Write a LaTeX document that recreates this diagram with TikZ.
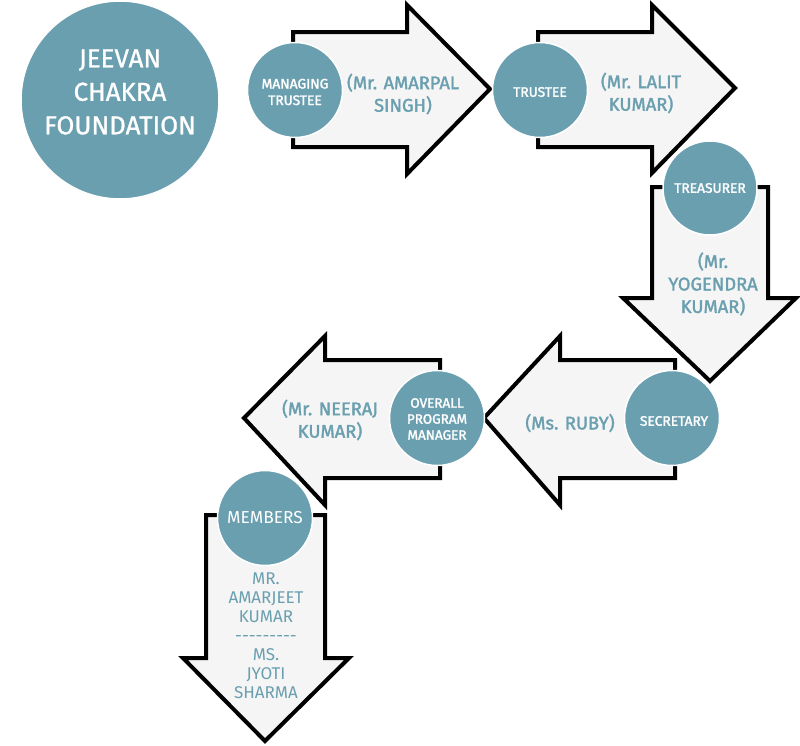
\documentclass[tikz,border=0pt]{standalone}
\usepackage{fontspec}
\setmainfont{Fira Sans}
\newfontfamily\medfont{Fira Sans}[FakeBold=1.8]
\newfontfamily\lightbold{Fira Sans}[FakeBold=1.0]
\definecolor{teal}{HTML}{6A9FB0}
\definecolor{arrfill}{HTML}{F5F5F5}
\tikzset{
  arrowbox/.style={draw=black, fill=arrfill, line width=4pt, line join=miter},
  disc/.style={circle, fill=teal, draw=white, line width=1.5pt, inner sep=0pt, minimum size=#1},
  disctext/.style={text=white, align=center, font=\medfont\fontsize{13.8}{16.5}\selectfont, inner sep=0pt},
  namelab/.style={text=teal, align=center, font=\medfont\fontsize{18.3}{22.5}\selectfont, inner sep=0pt},
  listlab/.style={text=teal, align=center, font=\fontsize{17}{19}\selectfont, inner sep=0pt},
}
\begin{document}
\begin{tikzpicture}[x=1pt,y=-1pt]
\useasboundingbox (0,0) rectangle (800,745);
% arrows
\draw[arrowbox] (293,32) -- (407,32) -- (407,5) -- (490,89) -- (407,174) -- (407,147) -- (293,147) -- cycle;
\draw[arrowbox] (538,32) -- (652,32) -- (652,5) -- (735,88) -- (652,173) -- (652,147) -- (538,147) -- cycle;
\draw[arrowbox] (652,187) -- (768,187) -- (768,298) -- (796,298) -- (710,381) -- (623,298) -- (652,298) -- cycle;
\draw[arrowbox] (675,360) -- (560,360) -- (560,336) -- (484,418) -- (560,505) -- (560,478) -- (675,478) -- cycle;
\draw[arrowbox] (440,360) -- (325,360) -- (325,336) -- (244,418) -- (325,505) -- (325,478) -- (440,478) -- cycle;
\draw[arrowbox] (206,515) -- (325,515) -- (325,658) -- (349,658) -- (265,741) -- (183,658) -- (206,658) -- cycle;
% circles
\node[disc=198pt] (jcf) at (120,100) {};
\node[text=white, align=center, font=\lightbold\fontsize{25.9}{33.5}\selectfont, inner sep=0pt] (jcft) at (120,92) {JEEVAN\\CHAKRA\\FOUNDATION};
\node[disc=95pt] (mt) at (295,90) {};
\node[disctext] (mtt) at (295,92) {MANAGING\\TRUSTEE};
\node[namelab] (amar) at (403,94) {(Mr. AMARPAL\\SINGH)};
\node[disc=95pt] (tr) at (540,90) {};
\node[disctext] (trt) at (540,92) {TRUSTEE};
\node[namelab] (lalit) at (641,93) {(Mr. LALIT\\KUMAR)};
\node[disc=94pt] (tre) at (710,188) {};
\node[disctext] (tret) at (710,188) {TREASURER};
\node[namelab] (yog) at (713,284) {(Mr.\\YOGENDRA\\KUMAR)};
\node[disc=95pt] (sec) at (672,418) {};
\node[disctext] (sect) at (674,421) {SECRETARY};
\node[namelab] (ruby) at (570,423) {(Ms. RUBY)};
\node[disc=95pt] (opm) at (437,418) {};
\node[disctext, font=\medfont\fontsize{13.5}{16}\selectfont] (opmt) at (437,419) {OVERALL\\PROGRAM\\MANAGER};
\node[namelab] (neer) at (330,420) {(Mr. NEERAJ\\KUMAR)};
\node[disc=95pt] (mem) at (265,518) {};
\node[text=white, font=\fontsize{17.3}{18}\selectfont, inner sep=0pt] (memt) at (265,518) {MEMBERS};
\node[listlab] (list) at (266,636) {MR.\\AMARJEET\\KUMAR\\-{}-{}-{}-{}-{}-{}-{}-{}-\\MS.\\JYOTI\\SHARMA};
\end{tikzpicture}
\end{document}
